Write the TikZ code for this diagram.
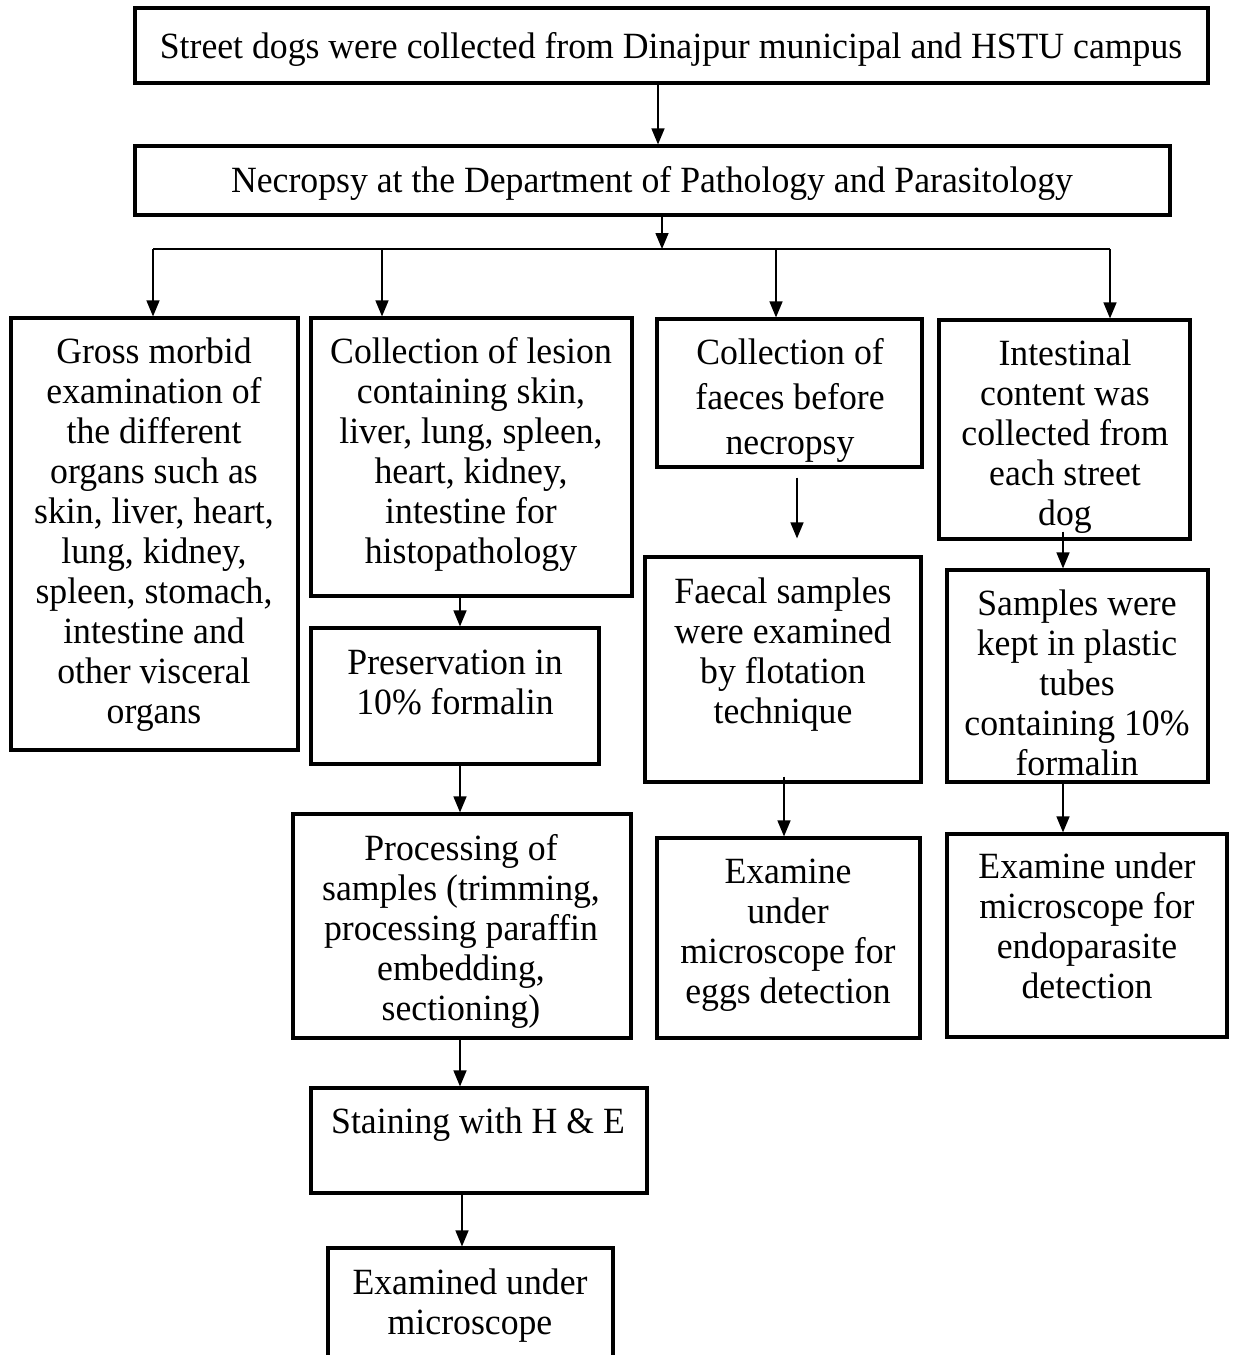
\documentclass[tikz,border=0pt]{standalone}
\usepackage{fontspec}
\setmainfont{Liberation Serif}[FakeStretch=0.965]
\usetikzlibrary{arrows.meta,fit}
\begin{document}
\begin{tikzpicture}[x=0.5pt,y=-0.5pt,
  box/.style={draw, line width=1.6pt, inner sep=0pt},
  txt/.style={align=center, inner sep=0pt, anchor=base, font=\fontsize{18.5}{20}\selectfont},
  arr/.style={line width=0.75pt, -{Triangle[width=6.5pt,length=8pt]}},
  ln/.style={line width=0.75pt}]
\useasboundingbox (0,0) rectangle (1233,1355);
\clip (0,0) rectangle (1233,1355);
% boxes and texts (text nodes anchored at the baseline of their last line)
\node[box, fit={(135,8)(1208,83)}] (T1) {};
\node[txt] (T1t) at (671,58) {Street dogs were collected from Dinajpur municipal and HSTU campus};
\node[box, fit={(135,146)(1170,215)}] (T2) {};
\node[txt] (T2t) at (652,192) {Necropsy at the Department of Pathology and Parasitology};
\node[box, fit={(11,318)(298,750)}] (A) {};
\node[txt] (At) at (154,723) {Gross morbid\\examination of\\the different\\organs such as\\skin, liver, heart,\\lung, kidney,\\spleen, stomach,\\intestine and\\other visceral\\organs};
\node[box, fit={(311,318)(632,596)}] (B) {};
\node[txt] (Bt) at (471,563) {Collection of lesion\\containing skin,\\liver, lung, spleen,\\heart, kidney,\\intestine for\\histopathology};
\node[box, fit={(657,319)(922,467)}] (C) {};
\node[txt, font=\fontsize{18.5}{22.5}\selectfont] (Ct) at (790,454) {Collection of\\faeces before\\necropsy};
\node[box, fit={(939,320)(1190,539)}] (D) {};
\node[txt] (Dt) at (1065,525) {Intestinal\\content was\\collected from\\each street\\dog};
\node[box, fit={(311,628)(599,764)}] (B2) {};
\node[txt] (B2t) at (455,714) {Preservation in\\10\% formalin};
\node[box, fit={(293,814)(631,1038)}] (B3) {};
\node[txt] (B3t) at (461,1020) {Processing of\\samples (trimming,\\processing paraffin\\embedding,\\sectioning)};
\node[box, fit={(311,1088)(647,1193)}] (B4) {};
\node[txt] (B4t) at (478,1133) {Staining with H \& E};
\node[box, fit={(328,1248)(613,1375)}] (B5) {};
\node[txt] (B5t) at (470,1334) {Examined under\\microscope};
\node[box, fit={(645,557)(921,782)}] (C2) {};
\node[txt] (C2t) at (783,723) {Faecal samples\\were examined\\by flotation\\technique};
\node[box, fit={(657,838)(920,1038)}] (C3) {};
\node[txt] (C3t) at (788,1003) {Examine\\under\\microscope for\\eggs detection};
\node[box, fit={(947,570)(1208,782)}] (D2) {};
\node[txt] (D2t) at (1077,775) {Samples were\\kept in plastic\\tubes\\containing 10\%\\formalin};
\node[box, fit={(947,834)(1227,1037)}] (D3) {};
\node[txt] (D3t) at (1087,998) {Examine under\\microscope for\\endoparasite\\detection};
% helper x positions
\coordinate (x658) at (658,0);
\coordinate (x662) at (662,0);
\coordinate (x382) at (382,0);
\coordinate (x776) at (776,0);
\coordinate (x460) at (460,0);
\coordinate (x462) at (462,0);
\coordinate (x797) at (797,0);
\coordinate (x784) at (784,0);
\coordinate (x1063) at (1063,0);
\coordinate (J) at (662,249);
\coordinate (Jl) at (153,249);
\coordinate (Jr) at (1110,249);
% connectors
\draw[arr] (x658 |- T1.south) -- (x658 |- T2.north);
\draw[arr] (x662 |- T2.south) -- (J);
\draw[ln] (Jl) -- (Jr);
\draw[arr] (Jl) -- (Jl |- A.north);
\draw[arr] (x382 |- Jl) -- (x382 |- B.north);
\draw[arr] (x776 |- Jl) -- (x776 |- C.north);
\draw[arr] (Jr) -- (Jr |- D.north);
\draw[arr] (x460 |- B.south) -- (x460 |- B2.north);
\draw[arr] (x460 |- B2.south) -- (x460 |- B3.north);
\draw[arr] (x460 |- B3.south) -- (x460 |- B4.north);
\draw[arr] (x462 |- B4.south) -- (x462 |- B5.north);
\draw[arr, shorten <=4.5pt, shorten >=8.5pt] (x797 |- C.south) -- (x797 |- C2.north);
\draw[arr, shorten <=-3.5pt] (x784 |- C2.south) -- (x784 |- C3.north);
\draw[arr, shorten <=-4.5pt] (x1063 |- D.south) -- (x1063 |- D2.north);
\draw[arr] (x1063 |- D2.south) -- (x1063 |- D3.north);
\end{tikzpicture}
\end{document}
